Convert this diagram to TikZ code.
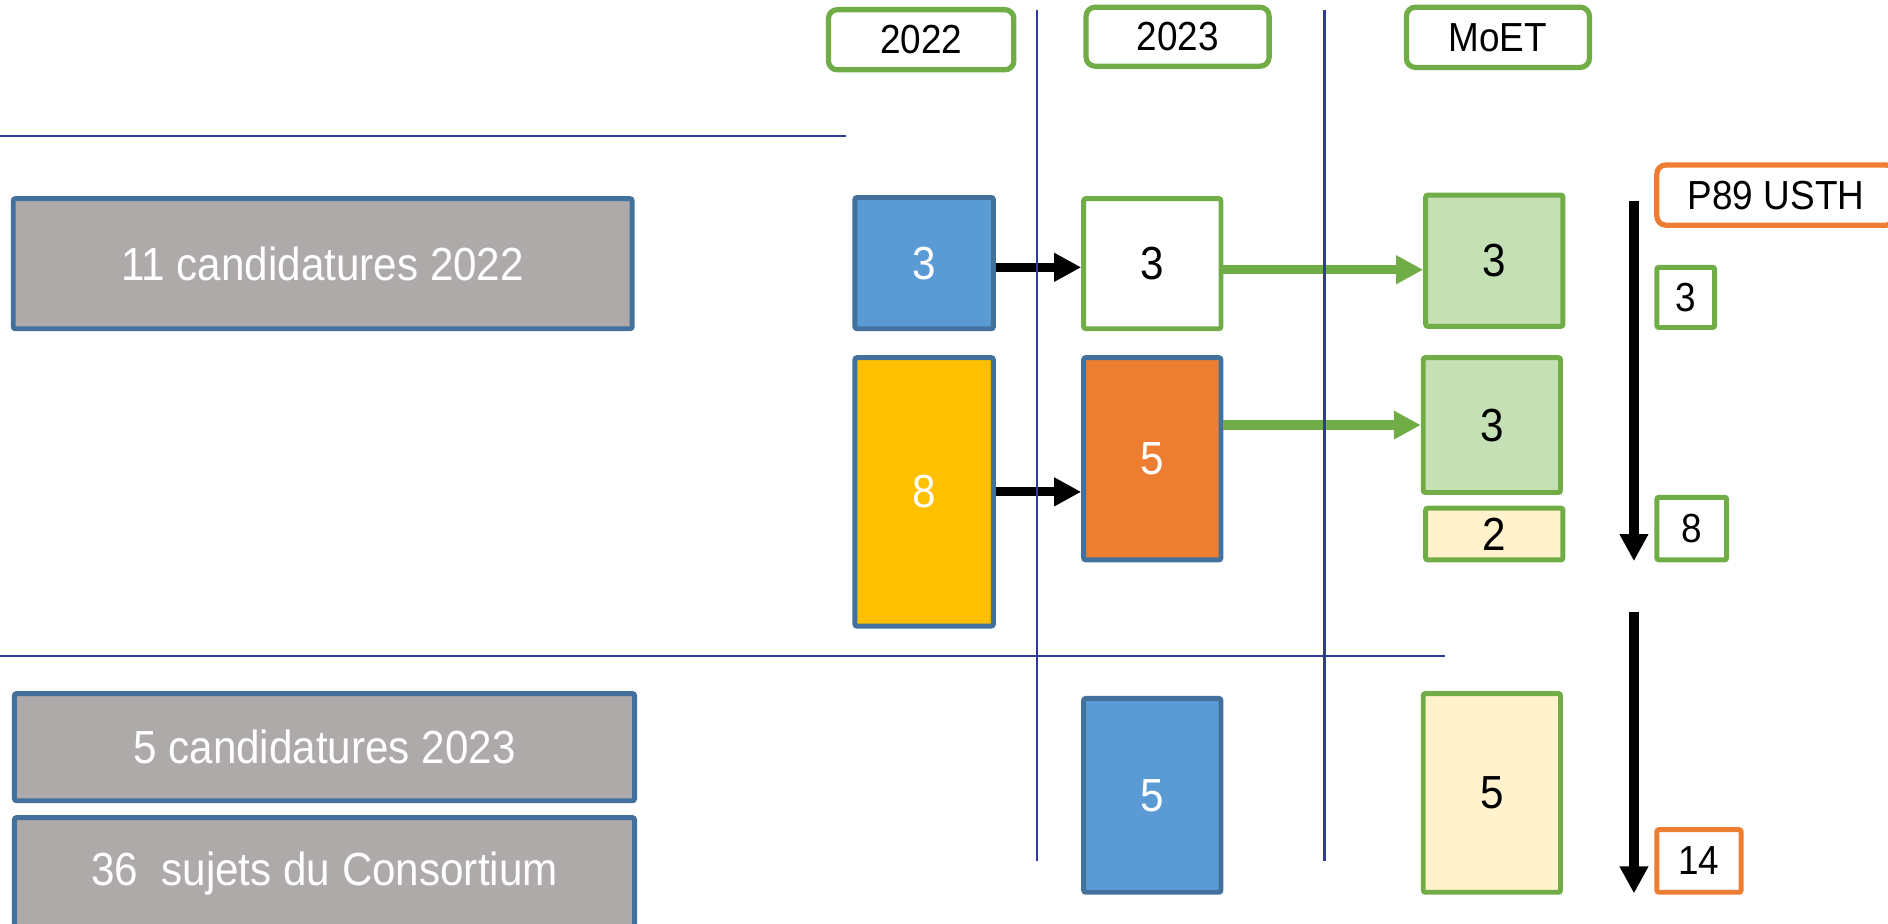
\documentclass[tikz,border=0pt]{standalone}
\usepackage{fontspec}
\setmainfont{Liberation Sans}
\usetikzlibrary{arrows.meta}
\definecolor{grayfill}{HTML}{AEAAAA}
\definecolor{blueedge}{HTML}{41719C}
\definecolor{bluefill}{HTML}{5B9BD5}
\definecolor{orangefill}{HTML}{ED7D31}
\definecolor{yellowfill}{HTML}{FFC000}
\definecolor{greenfill}{HTML}{C5E0B4}
\definecolor{greenedge}{HTML}{70AD47}
\definecolor{creamfill}{HTML}{FFF2CC}
\definecolor{linecol}{HTML}{2E3B9B}
\newcommand\tallt[1]{\scalebox{1}[1.1]{#1}}
\begin{document}
\begin{tikzpicture}[x=0.012041cm, y=-0.012041cm,
  sz/.style 2 args={minimum width=#1*0.012041cm, minimum height=#2*0.012041cm},
  base/.style={rectangle, inner sep=0pt, line width=1.4pt, rounded corners=0.6pt},
  bigtxt/.style={font=\fontsize{12pt}{14pt}\selectfont},
  smalltxt/.style={font=\fontsize{10.5pt}{12pt}\selectfont},
  graybox/.style={base, fill=grayfill, draw=blueedge, text=white, bigtxt},
  bluebox/.style={base, fill=bluefill, draw=blueedge, text=white, bigtxt},
  yellowbox/.style={base, fill=yellowfill, draw=blueedge, text=white, bigtxt},
  orangebox/.style={base, fill=orangefill, draw=blueedge, text=white, bigtxt},
  whitebox/.style={base, fill=white, draw=greenedge, text=black, bigtxt},
  greenbox/.style={base, fill=greenfill, draw=greenedge, text=black, bigtxt},
  creambox/.style={base, fill=creamfill, draw=greenedge, text=black, bigtxt},
  headbox/.style={base, rounded corners=0.09cm, line width=1.5pt, fill=white, draw=greenedge, text=black, smalltxt},
  tagbox/.style={base, rounded corners=0.09cm, line width=1.5pt, fill=white, draw=orangefill, text=black, smalltxt},
  sidegreen/.style={base, fill=white, draw=greenedge, text=black, smalltxt},
  sideorange/.style={base, fill=white, draw=orangefill, text=black, smalltxt},
  blackarrow/.style={line width=2.6pt, draw=black, -{Triangle[length=0.27cm, width=0.27cm]}},
  greenarrow/.style={line width=2.6pt, draw=greenedge, -{Triangle[length=0.27cm, width=0.27cm]}},
  sepline/.style={line width=0.7pt, draw=linecol}
]
\useasboundingbox (0,0) rectangle (1568,767);
\clip (0,0) rectangle (1568,767);

% headers
\node[headbox, sz={154}{50}] (h2022) at (765,33) {\tallt{2022}};
\node[headbox, sz={152}{49}] (h2023) at (978,30.5) {\tallt{2023}};
\node[headbox, sz={152}{50}] (hmoet) at (1244,31) {\tallt{MoET}};

% left grey boxes
\node[graybox, sz={514}{108}] (g1) at (268,219) {\tallt{11 candidatures 2022}};
\node[graybox, sz={515}{89}] (g2) at (269.5,620.5) {\tallt{5 candidatures 2023}};
\node[graybox, sz={515}{93}] (g3) at (269.5,725.5) {\tallt{36\ \ sujets du Consortium}};

% 2022 column
\node[bluebox, sz={115}{109}] (b3) at (767.5,218.5) {\tallt{3}};
\node[yellowbox, sz={115}{223}] (y8) at (767.5,408.5) {\tallt{8}};

% 2023 column
\node[whitebox, sz={114}{108}] (w3) at (957,219) {\tallt{3}};
\node[orangebox, sz={114}{168}] (o5) at (957,381) {\tallt{5}};
\node[bluebox, sz={114}{161}] (b5) at (957,660.5) {\tallt{5}};

% MoET column
\node[greenbox, sz={114}{109}] (gr3a) at (1241,216.5) {\tallt{3}};
\node[greenbox, sz={114}{112}] (gr3b) at (1239,353) {\tallt{3}};
\node[creambox, sz={114}{43}] (c2) at (1241,443.5) {\tallt{2}};
\node[creambox, sz={114}{165}] (c5) at (1239,658.5) {\tallt{5}};

% right column
\node[tagbox, sz={198}{50}] (p89) at (1475,162) {\tallt{P89 USTH}};
\node[sidegreen, sz={48}{50}] (s3) at (1400,247) {\tallt{3}};
\node[sidegreen, sz={58}{52}] (s8) at (1405,439) {\tallt{8}};
\node[sideorange, sz={70}{52}] (s14) at (1411,715) {\tallt{14}};

% arrows
\draw[blackarrow] (b3.east |- 0,222) -- (w3.west |- 0,222);
\draw[blackarrow] (y8.east) -- (y8.east -| o5.west);
\draw[greenarrow] (w3.east |- 0,224) -- (gr3a.west |- 0,224);
\draw[greenarrow] (o5.east |- gr3b.west) -- (gr3b.west);

\coordinate (v1s) at (1357,167);
\coordinate (v1e) at (1357,466);
\coordinate (v2s) at (1357,508);
\coordinate (v2e) at (1357,742);
\draw[blackarrow] (v1s) -- (v1e);
\draw[blackarrow] (v2s) -- (v2e);

% separator lines
\coordinate (l1t) at (861,8);
\coordinate (l1b) at (861,715);
\coordinate (l2t) at (1100,8);
\coordinate (l2b) at (1100,715);
\coordinate (hl1a) at (0,113);
\coordinate (hl1b) at (703,113);
\coordinate (hl2a) at (0,545);
\coordinate (hl2b) at (1200,545);
\draw[sepline] (l1t) -- (l1b);
\draw[sepline] (l2t) -- (l2b);
\draw[sepline] (hl1a) -- (hl1b);
\draw[sepline] (hl2a) -- (hl2b);
\end{tikzpicture}
\end{document}
